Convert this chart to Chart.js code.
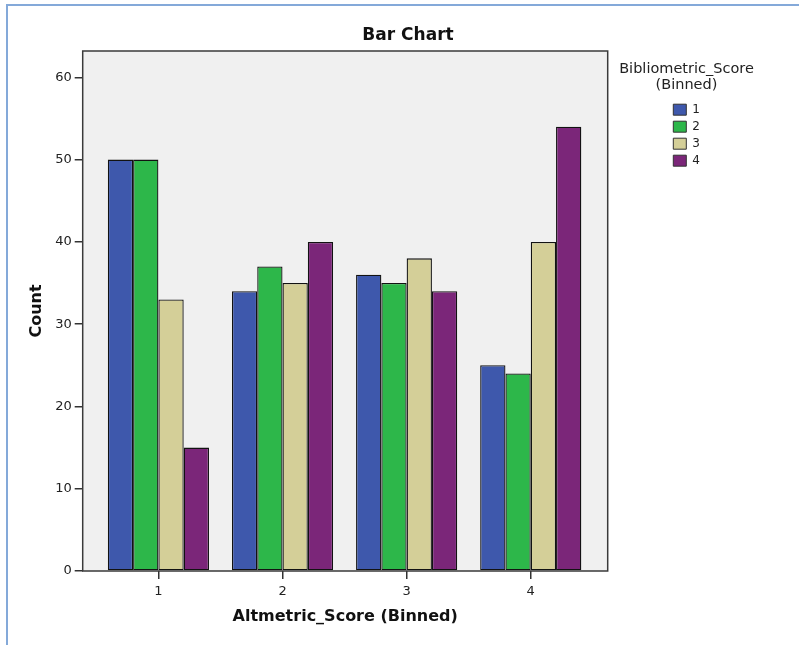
<!DOCTYPE html>
<html>
<head>
<meta charset="utf-8">
<script src="https://cdn.jsdelivr.net/npm/chart.js@4"></script>
<style>
  html, body { margin: 0; padding: 0; background: #ffffff; overflow: hidden; }
  #wrap { position: relative; width: 799px; height: 645px; }
  #frame { position: absolute; left: 6px; top: 4px; right: -10px; bottom: -10px;
           border-left: 2px solid #84a9d9; border-top: 2px solid #84a9d9; pointer-events: none; }
  canvas { position: absolute; left: 0; top: 0; }
</style>
</head>
<body>
<div id="wrap">
  <canvas id="c" width="799" height="645"></canvas>
  <div id="frame"></div>
</div>
<script>
// ---- data ----
const chartTitle = 'Bar Chart';
const xTitle = 'Altmetric_Score (Binned)';
const yTitle = 'Count';
const legendTitle = ['Bibliometric_Score', '(Binned)'];
const altmetricBins = ['1', '2', '3', '4'];
const biblioBins = ['1', '2', '3', '4'];
const counts1 = [50, 34, 36, 25];
const counts2 = [50, 37, 35, 24];
const counts3 = [33, 35, 38, 40];
const counts4 = [15, 40, 34, 54];
const yTickValues = [0, 10, 20, 30, 40, 50, 60];
const seriesColors = ['#3e58ac', '#2db74a', '#d4cf98', '#7b2679'];

const seriesCounts = [counts1, counts2, counts3, counts4];
const FONT = "'DejaVu Sans', sans-serif";

const datasets = seriesCounts.map((arr, s) => ({
  label: biblioBins[s],
  data: arr.map((v, i) => ({ x: i + 1, y: v })),
  backgroundColor: seriesColors[s],
  borderColor: '#121212',
  borderWidth: 1.3,
  borderSkipped: false,
  inflateAmount: 0,
  categoryPercentage: 0.815,
  barPercentage: 1.0
}));

const plotFrame = {
  id: 'plotFrame',
  beforeDraw(chart) {
    // let the legend title overflow the narrow legend box (no clipping)
    const lg = chart.legend;
    if (lg && !lg.__noClip && typeof lg._draw === 'function') {
      lg.draw = function () { if (this.options.display) this._draw(); };
      lg.__noClip = true;
    }
  },
  beforeDatasetsDraw(chart) {
    const a = chart.chartArea, ctx = chart.ctx;
    ctx.save();
    ctx.fillStyle = '#f0f0f0';
    ctx.fillRect(a.left, a.top, a.right - a.left, a.bottom - a.top);
    ctx.restore();
  },
  afterDatasetsDraw(chart) {
    const a = chart.chartArea, ctx = chart.ctx;
    ctx.save();
    ctx.strokeStyle = '#3a3a3a';
    ctx.lineWidth = 1.5;
    ctx.strokeRect(a.left, a.top, a.right - a.left, a.bottom - a.top);
    ctx.restore();
  }
};

new Chart(document.getElementById('c'), {
  type: 'bar',
  data: { datasets },
  plugins: [plotFrame],
  options: {
    responsive: false,
    animation: false,
    devicePixelRatio: 1,
    layout: { padding: { left: 17, right: 0, top: 0, bottom: 0 } },
    plugins: {
      tooltip: { enabled: false },
      title: {
        display: true,
        text: chartTitle,
        color: '#111',
        font: { family: FONT, size: 17, weight: 'bold', lineHeight: 1.2 },
        padding: { top: 25.4, bottom: 5.2 }
      },
      legend: {
        display: true,
        position: 'right',
        align: 'start',
        maxWidth: 36.4,
        title: {
          display: true,
          text: legendTitle,
          color: '#222',
          font: { family: FONT, size: 14.5, lineHeight: 1.103 },
          padding: { top: 61.7, bottom: 21 }
        },
        labels: {
          boxWidth: 13,
          boxHeight: 11,
          padding: 5,
          color: '#222',
          font: { family: FONT, size: 12 },
          generateLabels(chart) {
            return chart.data.datasets.map((d, i) => ({
              text: d.label,
              fillStyle: d.backgroundColor,
              strokeStyle: '#333',
              lineWidth: 1,
              hidden: false,
              datasetIndex: i
            }));
          }
        }
      }
    },
    scales: {
      x: {
        type: 'linear',
        position: 'bottom',
        offset: false,
        min: 0.39,
        max: 4.62,
        afterFit(s) { s.height = 74; },
        ticks: {
          stepSize: 1,
          includeBounds: false,
          color: '#222',
          padding: 5,
          font: { family: FONT, size: 13 },
          callback: (v) => altmetricBins[v - 1] ?? ''
        },
        grid: { display: true, offset: false, drawOnChartArea: false, drawTicks: true, tickLength: 8, color: '#333', lineWidth: 1.5 },
        border: { display: false },
        title: {
          display: true,
          text: xTitle,
          color: '#111',
          font: { family: FONT, size: 16, weight: 'bold', lineHeight: 1.2 },
          padding: { top: 0, bottom: 18.2 }
        }
      },
      y: {
        type: 'linear',
        position: 'left',
        min: 0,
        max: 63.2,
        afterFit(s) { s.width = 65.7; },
        afterBuildTicks(s) { s.ticks = yTickValues.map(v => ({ value: v })); },
        ticks: {
          color: '#222',
          padding: 3,
          font: { family: FONT, size: 13 }
        },
        grid: { display: true, drawOnChartArea: false, drawTicks: true, tickLength: 8, color: '#333', lineWidth: 1.5 },
        border: { display: false },
        title: {
          display: true,
          text: yTitle,
          color: '#111',
          font: { family: FONT, size: 16, weight: 'bold', lineHeight: 1.2 },
          padding: { top: 10.4, bottom: 0 }
        }
      },
      gapRight: {
        type: 'linear',
        position: 'right',
        weight: 1,
        display: true,
        afterFit(s) { s.width = 60.6; },
        ticks: { display: false },
        grid: { display: false },
        border: { display: false }
      },
      edgeRight: {
        type: 'linear',
        position: 'right',
        weight: 2000,
        display: true,
        afterFit(s) { s.width = 94.3; },
        ticks: { display: false },
        grid: { display: false },
        border: { display: false }
      }
    }
  }
});
</script>
</body>
</html>
